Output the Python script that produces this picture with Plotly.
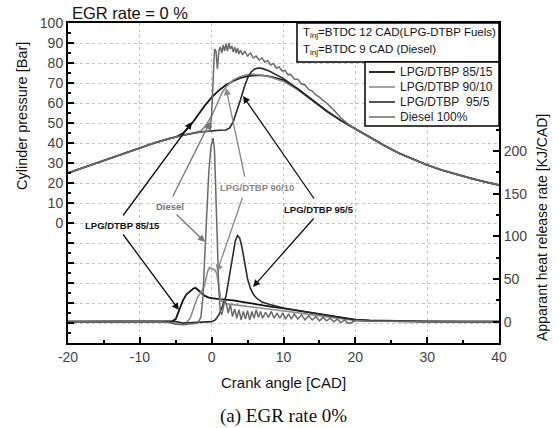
import plotly.graph_objects as go

# ---------------- data ----------------
# Cylinder pressure [Bar] vs crank angle [CAD]
p8515_x = [-20, -18, -16, -14, -12, -10, -8, -6, -5, -4, -3, -2, -1, 0, 1, 2, 3, 4, 5, 6, 7, 8, 9, 10, 12, 14,
           16, 18, 20, 22, 24, 26, 28, 30, 32, 34, 36, 38, 40]
p8515_y = [25, 27.5, 30, 32.6, 35.2, 37.6, 40, 42.1, 43, 44.8, 48.5, 53.5, 58.5, 62.8, 66.3, 69, 71, 72.5, 73.4,
           73.8, 73.8, 73.3, 72.5, 71.3, 67, 61.5, 56, 51.2, 47, 42.8, 38.8, 35, 31.8, 29, 26.5, 24.4, 22.4, 20.6, 19]

p9010_x = [-20, -18, -16, -14, -12, -10, -8, -6, -4, -2, -1.5, -1, -0.5, 0, 0.5, 1, 1.5, 2, 2.5, 3, 4, 5, 6, 7,
           8, 10, 12, 14, 16, 18, 20, 22, 24, 26, 28, 30, 32, 34, 36, 38, 40]
p9010_y = [25, 27.5, 30, 32.6, 35.2, 37.6, 40, 42.1, 43.9, 45.3, 46.2, 47.8, 50.5, 53.5, 57.5, 62, 65.5, 68, 70,
           71.5, 73.3, 74.2, 74.3, 73.9, 73.1, 70.8, 66.6, 61.3, 56, 51.2, 47, 42.8, 38.8, 35, 31.8, 29, 26.5,
           24.4, 22.4, 20.6, 19]

p955_x = [-20, -18, -16, -14, -12, -10, -8, -6, -4, -2, 0, 1, 2, 2.5, 3, 3.5, 4, 4.5, 5, 5.5, 6, 6.5, 7, 8, 9,
          10, 12, 14, 16, 18, 20, 22, 24, 26, 28, 30, 32, 34, 36, 38, 40]
p955_y = [25, 27.5, 30, 32.6, 35.2, 37.6, 40, 42.1, 43.9, 45.3, 46.2, 46.4, 46.5, 47.5, 50.5, 55.5, 61.5, 67.5,
          72.5, 75.5, 77, 77.5, 77.3, 76, 74.3, 72.2, 67, 61.5, 56, 51.2, 47, 42.8, 38.8, 35, 31.8, 29, 26.5,
          24.4, 22.4, 20.6, 19]

pdsl_x = [-20, -18, -16, -14, -12, -10, -8, -6, -4, -2, -0.2, 0, 0.2, 0.4, 0.6, 0.8, 1.0, 1.2, 1.4, 1.6, 1.8,
          2.0, 2.2, 2.4, 2.6, 2.8, 3.0, 3.2, 3.4, 3.6, 3.8, 4.0, 4.3, 4.6, 5.0, 5.4, 5.8, 6.2, 6.6, 7.0, 7.4,
          7.8, 8.2, 8.6, 9.0, 9.4, 9.8, 10.2, 10.6, 11.0, 11.5, 12.0, 12.5, 13.0, 13.5, 14.0, 14.5, 15.0,
          15.5, 16, 17, 18, 19, 20, 22, 24, 26, 28, 30, 32, 34, 36, 38, 40]
pdsl_y = [25, 27.5, 30, 32.6, 35.2, 37.6, 40, 42.1, 43.9, 45.3, 46.1, 55, 75, 87, 86, 77, 86, 88, 85, 89, 86,
          89.5, 86, 90, 87, 88.5, 85.5, 88, 85, 87.5, 84.5, 86.5, 84, 86, 83.5, 85, 82.5, 83.5, 81.5, 82.5,
          80.5, 81.2, 79, 79.8, 77.5, 78, 76, 76.3, 74.2, 74.3, 72, 71.8, 69.5, 69, 66.8, 66, 64, 63, 61.3,
          60, 56.5, 52.5, 49.5, 47, 42.8, 38.8, 35, 31.8, 29, 26.5, 24.4, 22.4, 20.6, 19]

# Apparent heat release rate [KJ/CAD]
h8515_x = [-20, -10, -6, -5.5, -5, -4.5, -4, -3.5, -3, -2.5, -2.2, -2, -1.5, -1, -0.5, 0, 1, 2, 3, 4, 5, 6, 7,
           8, 10, 12, 14, 16, 18, 20, 22, 25, 30, 35, 40]
h8515_y = [0, 0, 0, 0.5, 3, 14, 25, 32, 36, 39, 39.5, 38, 34, 30.5, 28.5, 27.5, 26.5, 26, 25, 23.5, 22, 20.5,
           19.5, 18, 15.5, 13, 10.5, 8, 5, 2.5, 1.5, 0.8, 0.3, 0, 0]

h9010_x = [-20, -10, -7, -6, -5, -4, -3.5, -3, -2.5, -2, -1.5, -1, -0.6, -0.3, 0, 0.4, 0.7, 1.0, 1.3, 1.6, 2, 3,
           4, 5, 6, 8, 10, 12, 14, 16, 18, 20, 22, 25, 30, 40]
h9010_y = [0, 0, 0, -1, -2.5, -3, -1, 4, 15, 28, 34, 42, 58, 63.5, 62, 61, 57, 38, 25, 22, 21, 20, 19, 18, 17,
           14.5, 12.5, 10.5, 8, 6, 3.5, 1.5, 0.5, 0.3, 0, 0]

h955_x = [-20, -10, -5, -4, -2, 0, 0.5, 1, 1.5, 2, 2.5, 3, 3.3, 3.6, 3.9, 4.2, 4.6, 5, 5.4, 5.8, 6.2, 6.6, 7, 8,
          9, 10, 12, 14, 16, 18, 20, 22, 25, 30, 40]
h955_y = [0, 0, 0, -1.5, -1, 0, 2, 8, 18, 30, 55, 82, 95, 101, 98, 88, 70, 50, 39, 32, 28, 25, 23, 20.5, 18, 16,
          13, 10, 7, 4.5, 2, 1, 0.5, 0, 0]

hdsl_x = [-20, -10, -7, -6, -5, -4, -3, -2, -1.5, -1.2, -1, -0.7, -0.4, -0.1, 0.2, 0.4, 0.6, 0.8, 1.0, 1.2, 1.4,
          1.6, 1.8, 2.0, 2.3, 2.6, 2.9, 3.2, 3.5, 3.8, 4.1, 4.4, 4.7, 5.0, 5.3, 5.6, 5.9, 6.2, 6.5, 6.8, 7.1,
          7.5, 7.9, 8.3, 8.7, 9.1, 9.5, 9.9, 10.3, 10.7, 11.1, 11.5, 12, 12.5, 13, 13.5, 14, 14.5, 15, 15.5,
          16, 16.5, 17, 17.5, 18, 18.5, 19, 19.5, 20, 21, 22, 25, 30, 40]
hdsl_y = [0, 0, 0, -1, -3, -3.5, -3, -2, 5, 30, 70, 120, 175, 205, 215, 200, 150, 90, 35, 12, 8, 15, 25, 22, 10,
          20, 6, 15, 4, 14, 2, 12, 3, 13, 2, 12, 4, 14, 5, 12, 4, 11, 5, 12, 4, 10, 4, 10, 3, 9, 3, 9, 3, 8,
          2, 7, 2, 6, 1, 5, 1, 4, 0, 3, -1, 2, -2, -1, 1, 1, 0.5, 0.5, 0, 0]

series_names = ["LPG/DTBP 85/15", "LPG/DTBP 90/10", "LPG/DTBP  95/5", "Diesel 100%"]
series_colors = ["#111111", "#8c8c8c", "#2a2a2a", "#6a6a6a"]
series_widths = [1.8, 1.6, 1.6, 1.5]

x_ticks = [-20, -10, 0, 10, 20, 30, 40]
x_ticktext = ["-20", "-10", "0", "10", "20", "30", "40"]
p_ticks = [-50, -40, -30, -20, -10, 0, 10, 20, 30, 40, 50, 60, 70, 80, 90, 100]
p_ticktext = [str(v) if v >= 0 else "" for v in p_ticks]
h_ticks = [0, 50, 100, 150, 200]

FONT = "Arial, Liberation Sans, sans-serif"

fig = go.Figure()
pressure = [(p8515_x, p8515_y), (p9010_x, p9010_y), (p955_x, p955_y), (pdsl_x, pdsl_y)]
hrr = [(h8515_x, h8515_y), (h9010_x, h9010_y), (h955_x, h955_y), (hdsl_x, hdsl_y)]
for i in range(4):
    fig.add_trace(go.Scatter(x=pressure[i][0], y=pressure[i][1], mode="lines", name=series_names[i],
                             line=dict(color=series_colors[i], width=series_widths[i]), showlegend=False))
for i in range(4):
    fig.add_trace(go.Scatter(x=hrr[i][0], y=hrr[i][1], mode="lines", name=series_names[i], yaxis="y2",
                             line=dict(color=series_colors[i], width=series_widths[i]), showlegend=False))

# plot area in pixels: x 68..499, y 23..343
L, R, T, B = 68, 499, 23, 343
W, H = R - L, B - T


def px(xp):
    return (xp - L) / W


def py(yp):
    return (B - yp) / H


fig.update_layout(
    width=559, height=428,
    margin=dict(l=L, r=559 - R, t=T, b=428 - B),
    paper_bgcolor="white", plot_bgcolor="white",
    font=dict(family=FONT, color="#333"),
    showlegend=False,
    xaxis=dict(range=[-20, 40], tickmode="array", tickvals=x_ticks, ticktext=x_ticktext, ticks="inside",
               ticklen=6, tickwidth=1.5,
               tickcolor="black", minor=dict(tickmode="linear", tick0=-20, dtick=5, ticks="inside", ticklen=3,
                                             tickcolor="black", showgrid=False),
               showgrid=True, gridcolor="#c4c4c4", griddash="dot", gridwidth=1,
               showline=True, linewidth=2, linecolor="black", mirror=True, zeroline=False,
               tickfont=dict(size=14, color="#444")),
    yaxis=dict(range=[-60, 100], tickmode="array", tickvals=p_ticks, ticktext=p_ticktext, ticks="inside",
               ticklen=6, tickwidth=1.5, tickcolor="black",
               minor=dict(tickmode="linear", tick0=0, dtick=5, ticks="inside", ticklen=3, tickcolor="black",
                          showgrid=False),
               showgrid=True, gridcolor="#c4c4c4", griddash="dot", gridwidth=1,
               showline=True, linewidth=2, linecolor="black", zeroline=False,
               tickfont=dict(size=14, color="#444")),
    yaxis2=dict(range=[-25, 350], overlaying="y", side="right", tickmode="array", tickvals=h_ticks,
                ticks="inside", ticklen=6, tickwidth=1.5, tickcolor="black",
                minor=dict(tickmode="linear", tick0=0, dtick=25, ticks="inside", ticklen=3, tickcolor="black",
                           showgrid=False),
                showgrid=False, showline=True, linewidth=2, linecolor="black", zeroline=False,
                tickfont=dict(size=14, color="#444")),
)

ann = []
# titles
ann.append(dict(text="EGR rate = 0 %", x=px(70), y=py(13), xref="paper", yref="paper", xanchor="left",
                yanchor="middle", showarrow=False, font=dict(size=16.5, color="#111")))
ann.append(dict(text="Cylinder pressure [Bar]", x=px(22), y=py(116), xref="paper", yref="paper",
                xanchor="center", yanchor="middle", textangle=-90, showarrow=False,
                font=dict(size=14.5, color="#111")))
ann.append(dict(text="Apparant heat release rate [KJ/CAD]", x=px(542), y=py(228), xref="paper", yref="paper",
                xanchor="center", yanchor="middle", textangle=-90, showarrow=False,
                font=dict(size=14, color="#111")))
ann.append(dict(text="Crank angle [CAD]", x=px(283), y=py(382), xref="paper", yref="paper",
                xanchor="center", yanchor="middle", showarrow=False, font=dict(size=15, color="#111")))
ann.append(dict(text="(a) EGR rate 0%", x=px(283), y=py(416), xref="paper", yref="paper",
                xanchor="center", yanchor="middle", showarrow=False,
                font=dict(size=19, color="#111", family="Liberation Serif, Times New Roman, serif")))

# injection timing box text
ann.append(dict(text="T<sub>inj</sub>=BTDC 12 CAD(LPG-DTBP Fuels)", x=px(301), y=py(33), xref="paper",
                yref="paper", xanchor="left", yanchor="middle", showarrow=False,
                font=dict(size=11.5, color="#111")))
ann.append(dict(text="T<sub>inj</sub>=BTDC 9 CAD (Diesel)", x=px(301), y=py(50), xref="paper",
                yref="paper", xanchor="left", yanchor="middle", showarrow=False,
                font=dict(size=11.5, color="#111")))

shapes = [
    dict(type="rect", xref="paper", yref="paper", x0=px(297), x1=1, y0=py(62), y1=1,
         fillcolor="white", line=dict(color="black", width=1.5), layer="above"),
    dict(type="rect", xref="paper", yref="paper", x0=px(365), x1=1, y0=py(126), y1=py(62),
         fillcolor="white", line=dict(color="black", width=1.5), layer="above"),
]
# manual legend
legend_rows = [72, 87, 102, 117]
for i in range(4):
    shapes.append(dict(type="line", xref="paper", yref="paper", x0=px(369), x1=px(395),
                       y0=py(legend_rows[i]), y1=py(legend_rows[i]),
                       line=dict(color=series_colors[i], width=series_widths[i]), layer="above"))
    ann.append(dict(text=series_names[i].replace("  ", "&nbsp; "), x=px(398), y=py(legend_rows[i]),
                    xref="paper", yref="paper", xanchor="left", yanchor="middle", showarrow=False,
                    font=dict(size=12, color="#222")))


def X(p):
    return -20 + (p - L) / W * 60


def Y(p):
    return (223 - p) / 2


# curve labels with pointer arrows
labels = [
    ("LPG/DTBP 85/15", 122, 225, "#111", [((122, 217), (192, 122)), ((122, 233), (179, 310))]),
    ("Diesel", 170, 206, "#777", [((172, 198), (210, 122)), ((175, 213), (205, 242))]),
    ("LPG/DTBP 90/10", 257, 187, "#888", [((245, 178), (226, 88)), ((243, 196), (217, 272))]),
    ("LPG/DTBP 95/5", 319, 209, "#111", [((315, 200), (243, 96)), ((315, 217), (253, 287))]),
]
for text, cx, cy, col, arrows in labels:
    ann.append(dict(text="<b>" + text + "</b>", x=X(cx), y=Y(cy), xref="x", yref="y", showarrow=False,
                    xanchor="center", yanchor="middle", font=dict(size=9.5, color=col)))
    for (tx, ty), (hx, hy) in arrows:
        ann.append(dict(text="", x=X(hx), y=Y(hy), xref="x", yref="y", ax=X(tx), ay=Y(ty), axref="x",
                        ayref="y", showarrow=True, arrowhead=2, arrowsize=1.1, arrowwidth=1.3,
                        arrowcolor=col, standoff=0))

fig.update_layout(annotations=ann, shapes=shapes)
fig.write_html("out.html")
